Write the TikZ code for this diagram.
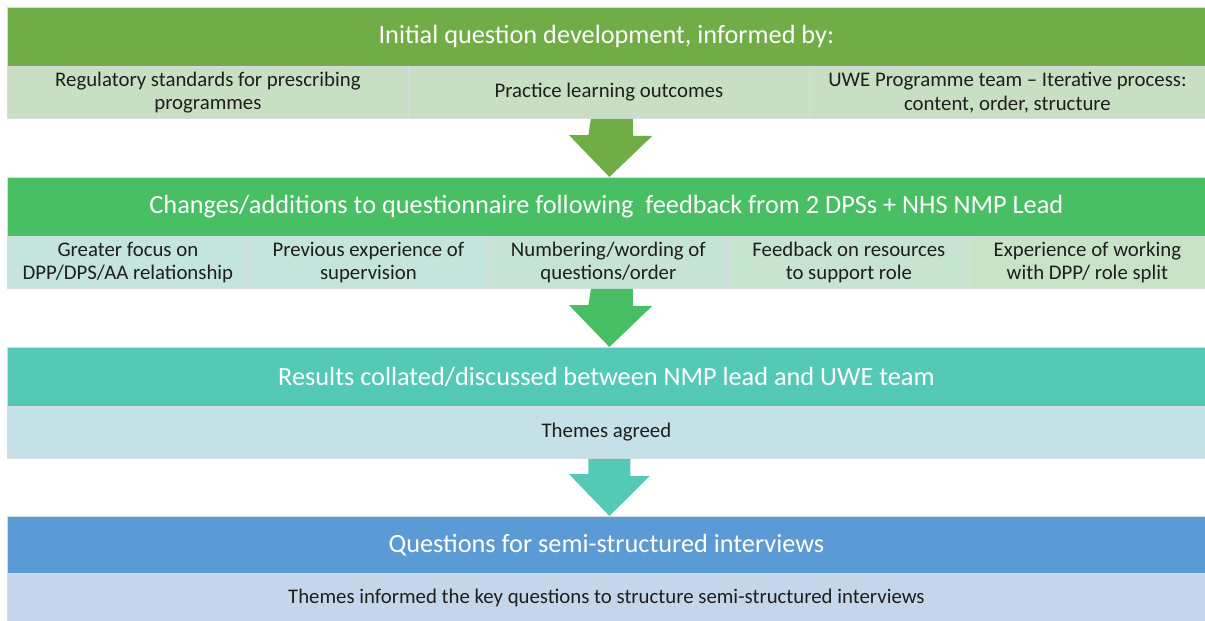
\documentclass[tikz,border=0pt]{standalone}
\usepackage{fontspec}
\setmainfont{Carlito}
\usetikzlibrary{calc}
\definecolor{hA}{HTML}{70AD47}
\definecolor{sA}{HTML}{C9DFC3}
\definecolor{hB}{HTML}{48BF63}
\definecolor{sB1}{HTML}{C3E5DE}
\definecolor{sB2}{HTML}{C4E5DB}
\definecolor{sB3}{HTML}{C5E4D6}
\definecolor{sB4}{HTML}{C6E4CF}
\definecolor{sB5}{HTML}{C8E3C8}
\definecolor{hC}{HTML}{54CAB6}
\definecolor{sC}{HTML}{C5E1E8}
\definecolor{hD}{HTML}{5B9BD5}
\definecolor{sD}{HTML}{C5D5EA}
\definecolor{edge}{HTML}{D6DCE2}
\definecolor{txt}{HTML}{1E1E1E}
\tikzset{
  hdr/.style={draw=edge, line width=0.8pt, text=white, font=\fontsize{26.3}{31}\selectfont,
    minimum width=1198pt, minimum height=59pt, inner sep=0pt, anchor=north west},
  cell/.style={draw=edge, line width=0.8pt, text=txt, font=\fontsize{20.8}{23.5}\selectfont,
    align=center, minimum height=52pt, inner sep=0pt, anchor=north west}
}
\begin{document}
\begin{tikzpicture}[x=1pt,y=-1pt]
\useasboundingbox (0,0) rectangle (1205,621);
\fill[white] (0,0) rectangle (1205,621);
% Panel 1
\node[hdr, fill=hA] (h1) at (7,7) {Initial question development, informed by:};
\node[cell, fill=sA, minimum width=401pt] (c11) at (7,66) {Regulatory standards for prescribing\\programmes};
\node[cell, fill=sA, minimum width=401pt] (c12) at (408,66) {Practice learning outcomes};
\node[cell, fill=sA, minimum width=396pt] (c13) at (809,66) {UWE Programme team – Iterative process:\\content, order, structure};
% Panel 2
\node[hdr, fill=hB] (h2) at (7,177) {Changes/additions to questionnaire following\ \ feedback from 2 DPSs + NHS NMP Lead};
\node[cell, fill=sB1, minimum width=241pt] (c21) at (7,236) {Greater focus on\\DPP/DPS/AA relationship};
\node[cell, fill=sB2, minimum width=240pt] (c22) at (248,236) {Previous experience of\\supervision};
\node[cell, fill=sB3, minimum width=240pt] (c23) at (488,236) {Numbering/wording of\\questions/order};
\node[cell, fill=sB4, minimum width=241pt] (c24) at (728,236) {Feedback on resources\\to support role};
\node[cell, fill=sB5, minimum width=236pt] (c25) at (969,236) {Experience of working\\with DPP/ role split};
% Panel 3
\node[hdr, fill=hC] (h3) at (7,347) {Results collated/discussed between NMP lead and UWE team};
\node[cell, fill=sC, minimum width=1198pt] (c3) at (7,406) {Themes agreed};
% Panel 4
\node[hdr, fill=hD, minimum height=57pt] (h4) at (7,516) {Questions for semi-structured interviews};
\node[cell, fill=sD, minimum width=1198pt, minimum height=50pt] (c4) at (7,573) {Themes informed the key questions to structure semi-structured interviews};
% Arrows
\fill[hA] ($(c12.south)+(-18,0)$) -- ++(42,0) -- ++(0,17) -- ++(19.5,0)
   -- ($(h2.north)+(3,0)$) -- ++(-40.5,-42) -- ++(19.5,0) -- cycle;
\fill[hB] ($(c23.south -| c12.south)+(-18,0)$) -- ++(42,0) -- ++(0,17) -- ++(19.5,0)
   -- ($(h3.north)+(3,0)$) -- ++(-40.5,-42) -- ++(19.5,0) -- cycle;
\fill[hC] ($(c3.south)+(-18,0)$) -- ++(42,0) -- ++(0,17) -- ++(19.5,0)
   -- ($(h4.north)+(3,0)$) -- ++(-40.5,-42) -- ++(19.5,0) -- cycle;
\end{tikzpicture}
\end{document}
